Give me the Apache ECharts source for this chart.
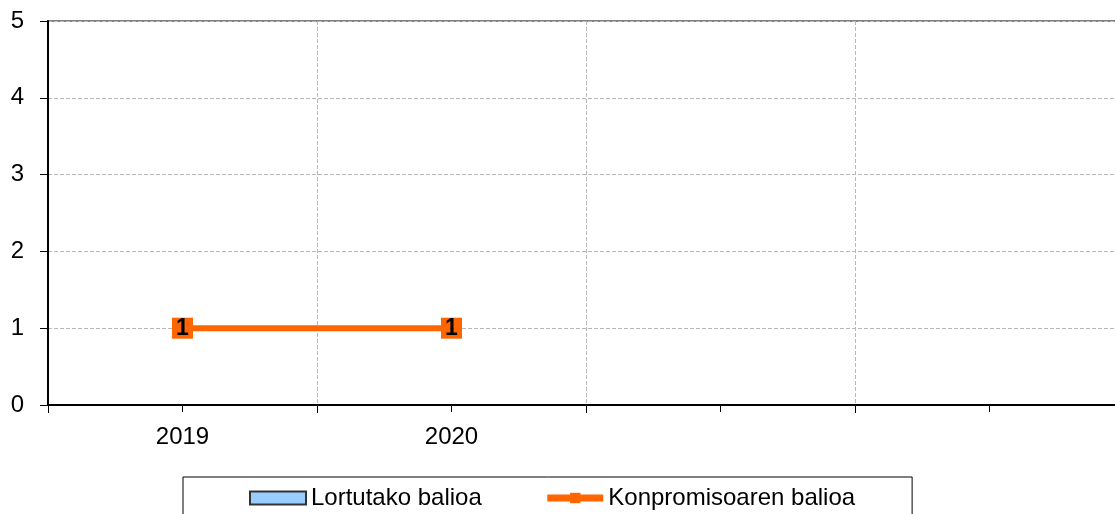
<!DOCTYPE html>
<html>
<head>
<meta charset="utf-8">
<script src="https://cdn.jsdelivr.net/npm/echarts@6/dist/echarts.min.js"></script>
<style>
  html, body { margin: 0; padding: 0; background: #fff; }
  #chart { width: 1115px; height: 514px; }
</style>
</head>
<body>
<div id="chart"></div>
<script>
// categories and values
const years = ["2019", "2020", "", ""];
const lortutako = [null, null, null, null];
const konpromiso = [1, 1, null, null];
const yTicks = [0, 1, 2, 3, 4, 5];

const chart = echarts.init(document.getElementById("chart"));
const font = "Liberation Sans, Arial, sans-serif";

chart.setOption({
  animation: false,
  grid: {
    left: 48, top: 21, bottom: 109, width: 1076,
    outerBoundsMode: "none", containLabel: false,
    show: true, borderColor: "#808080", borderWidth: 2
  },
  legend: {
    left: 183, top: 477,
    padding: [9, 57, 40, 66],
    borderColor: "#000", borderWidth: 1,
    itemGap: 62, itemWidth: 56, itemHeight: 13,
    textStyle: { fontFamily: font, fontSize: 24, color: "#000" },
    data: [
      { name: "Lortutako balioa", icon: "rect" },
      { name: "Konpromisoaren balioa", lineStyle: { width: 7 } }
    ]
  },
  xAxis: [
    {
      type: "category", data: years, boundaryGap: true,
      axisLine: { lineStyle: { color: "#000", width: 2 } },
      axisTick: { show: true, length: 8, lineStyle: { color: "#000" } },
      axisLabel: { fontFamily: font, fontSize: 24, color: "#000", margin: 20 },
      splitLine: { show: true, lineStyle: { color: "#b8b8b8", type: "dashed" } }
    },
    {
      type: "category", data: years, position: "bottom", gridIndex: 0,
      axisLine: { show: false },
      axisTick: { show: true, alignWithLabel: true, length: 7, lineStyle: { color: "#000" } },
      axisLabel: { show: false },
      splitLine: { show: false }
    }
  ],
  yAxis: {
    type: "value", min: 0, max: 5, interval: 1,
    axisLine: { show: true, lineStyle: { color: "#000", width: 2 } },
    axisTick: { show: true, length: 8, lineStyle: { color: "#000" } },
    axisLabel: { fontFamily: font, fontSize: 24, color: "#000", margin: 24,
      formatter: v => yTicks.includes(v) ? String(v) : "" },
    splitLine: { lineStyle: { color: "#b8b8b8", type: "dashed" } }
  },
  series: [
    {
      name: "Lortutako balioa", type: "bar", data: lortutako,
      itemStyle: { color: "#99CCFF", borderColor: "#333", borderWidth: 1 }
    },
    {
      name: "Konpromisoaren balioa", type: "line", data: konpromiso,
      color: "#FF6600",
      lineStyle: { width: 6, color: "#FF6600" },
      symbol: "rect", symbolSize: 21,
      itemStyle: { color: "#FF6600" },
      label: { show: true, position: "inside", fontFamily: font, fontSize: 23,
        fontWeight: "bold", color: "#000" }
    }
  ]
});
</script>
</body>
</html>
